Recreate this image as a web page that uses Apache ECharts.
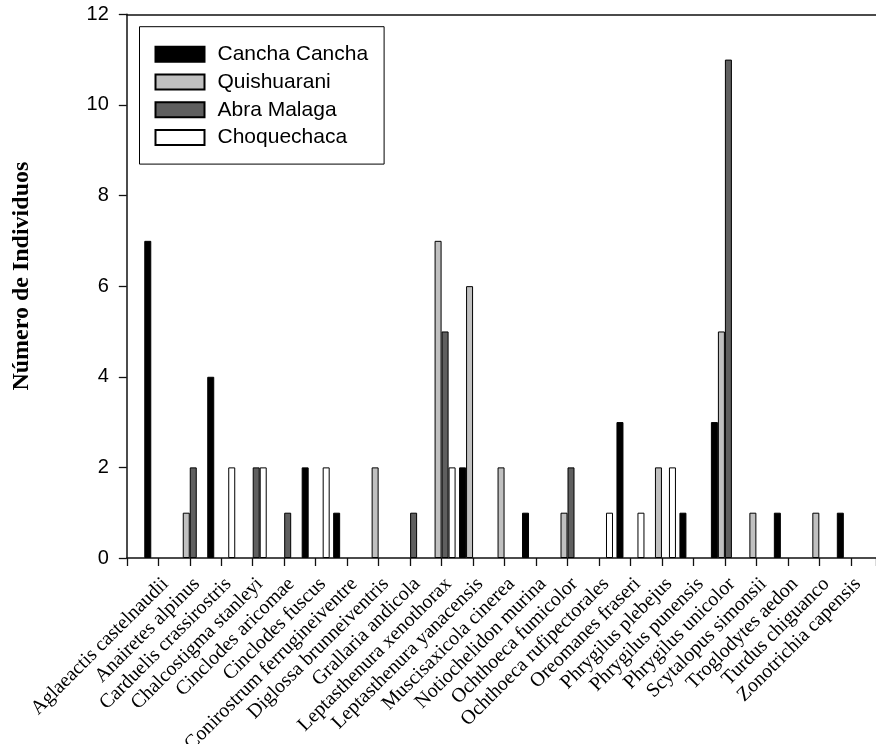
<!DOCTYPE html>
<html>
<head>
<meta charset="utf-8">
<script src="https://cdn.jsdelivr.net/npm/echarts@6/dist/echarts.min.js"></script>
<style>
html,body{margin:0;padding:0;background:#fff;}
#chart{width:876px;height:744px;}
</style>
</head>
<body>
<div id="chart"></div>
<script>
var categories = [
  'Aglaeactis castelnaudii','Anairetes alpinus','Carduelis crassirostris','Chalcostigma stanleyi',
  'Cinclodes aricomae','Cinclodes fuscus','Conirostrum ferrugineiventre','Diglossa brunneiventris',
  'Grallaria andicola','Leptasthenura xenothorax','Leptasthenura yanacensis','Muscisaxicola cinerea',
  'Notiochelidon murina','Ochthoeca fumicolor','Ochthoeca rufipectorales','Oreomanes fraseri',
  'Phrygilus plebejus','Phrygilus punensis','Phrygilus unicolor','Scytalopus simonsii',
  'Troglodytes aedon','Turdus chiguanco','Zonotrichia capensis'
];
var canchaCancha = [7,0,4,0,0,2,1,0,0,0,2,0,1,0,0,3,0,1,3,0,1,0,1];
var quishuarani  = [0,1,0,0,0,0,0,2,0,7,6,2,0,1,0,0,2,0,5,1,0,1,0];
var abraMalaga   = [0,2,0,2,1,0,0,0,1,5,0,0,0,2,0,0,0,0,11,0,0,0,0];
var choquechaca  = [0,0,2,2,0,2,0,0,0,2,0,0,0,0,1,1,2,0,0,0,0,0,0];
var yTicks = [0,2,4,6,8,10,12];

var seriesDefs = [
  {name:'Cancha Cancha', data:canchaCancha, color:'#000000'},
  {name:'Quishuarani', data:quishuarani, color:'#c0c0c0'},
  {name:'Abra Malaga', data:abraMalaga, color:'#5f5f5f'},
  {name:'Choquechaca', data:choquechaca, color:'#ffffff'}
];

var chart = echarts.init(document.getElementById('chart'), null, {renderer:'canvas'});
var option = {
  animation:false,
  backgroundColor:'#fff',
  grid:{left:126.8, right:0, top:14.3, bottom:186, outerBoundsMode:'none'},
  legend:{
    orient:'vertical', left:139.5, top:26.7,
    itemWidth:49, itemHeight:15, itemGap:6.8,
    padding:[17,16,16,15],
    borderColor:'#000', borderWidth:1,
    icon:'rect',
    textStyle:{fontFamily:'Liberation Sans, Arial', fontSize:21, color:'#000', padding:[0,0,0,8]},
    data:seriesDefs.map(function(s){return s.name;})
  },
  xAxis:[{
    type:'value', min:-1, max:22.8, interval:1,
    axisLine:{show:true, lineStyle:{color:'#111', width:1.5}},
    axisTick:{show:true, length:8, lineStyle:{color:'#111', width:1.3}},
    splitLine:{show:false},
    axisLabel:{
      rotate:45, margin:16, verticalAlign:'top', align:'right',
      fontFamily:'Liberation Serif, Times New Roman', fontSize:20, color:'#000',
      formatter:function(v){ return (Number.isInteger(v) && v>=0 && v<categories.length) ? categories[v] : ''; }
    }
  },{
    type:'value', position:'top', min:-1, max:22.8,
    axisLine:{show:true, onZero:false, lineStyle:{color:'#111', width:1.5}},
    axisTick:{show:false}, axisLabel:{show:false}, splitLine:{show:false}
  }],
  yAxis:{
    type:'value', min:yTicks[0], max:yTicks[yTicks.length-1], interval:2,
    name:'Número de Individuos', nameLocation:'middle', nameGap:93, nameRotate:90,
    nameTextStyle:{fontFamily:'Liberation Serif, Times New Roman', fontWeight:'bold', fontSize:24, color:'#000', padding:[0,0,0,20]},
    axisLine:{show:true, onZero:false, lineStyle:{color:'#111', width:1.5}},
    axisTick:{show:true, length:8, lineStyle:{color:'#111', width:1.3}},
    splitLine:{show:false},
    axisLabel:{margin:18, fontFamily:'Liberation Sans, Arial', fontSize:20, color:'#000'}
  },
  series:seriesDefs.map(function(s){
    return {
      name:s.name, type:'bar', xAxisIndex:0,
      barWidth:7, barGap:'0%',
      itemStyle:{color:s.color, borderColor:'#000', borderWidth:1},
      data:s.data.map(function(v,i){ return [i, v === 0 ? '-' : v]; })
    };
  })
};
chart.setOption(option);
</script>
</body>
</html>
